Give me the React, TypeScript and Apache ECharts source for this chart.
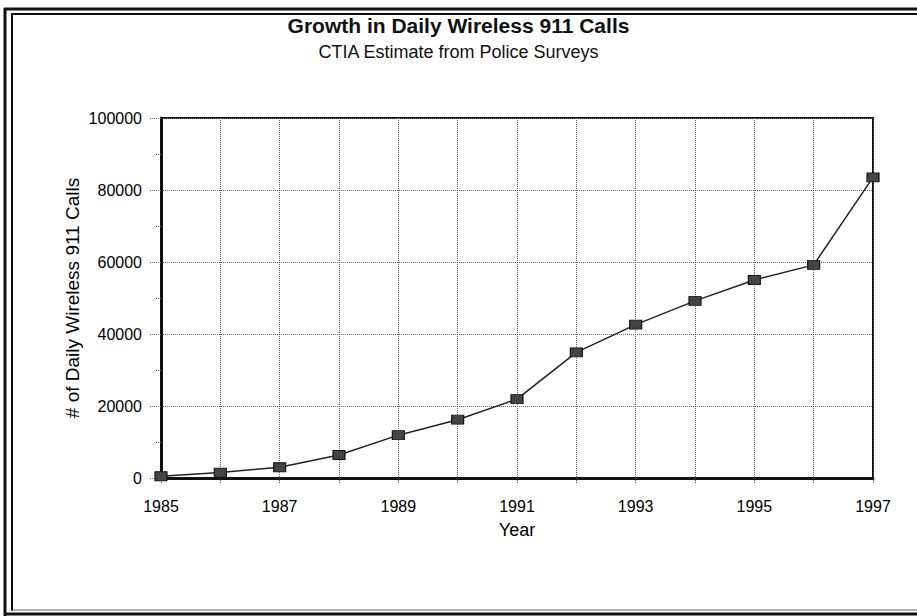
import React, { useEffect, useRef } from "react";
import * as echarts from "echarts";

const years = ["1985", "1986", "1987", "1988", "1989", "1990", "1991", "1992", "1993", "1994", "1995", "1996", "1997"];
const dailyCalls = [500, 1500, 3000, 6400, 11900, 16200, 21900, 34900, 42600, 49200, 55000, 59200, 83500];
const yTicks = { min: 0, max: 100000, interval: 20000 };

const titleText = "Growth in Daily Wireless 911 Calls";
const subtitleText = "CTIA Estimate from Police Surveys";
const yName = "# of Daily Wireless 911 Calls";
const xName = "Year";

export default function App() {
  const ref = useRef<HTMLDivElement>(null);
  useEffect(() => {
    if (!ref.current) return;
    const chart = echarts.init(ref.current, null, { renderer: "svg" });
    const font = "Liberation Sans, Arial, Helvetica, sans-serif";
    chart.setOption({
      animation: false,
      backgroundColor: "#fff",
      textStyle: { fontFamily: font },
      title: {
        text: titleText,
        subtext: subtitleText,
        left: "center",
        top: 10,
        itemGap: 7,
        textStyle: { fontFamily: font, fontSize: 21, fontWeight: "bold", color: "#111" },
        subtextStyle: { fontFamily: font, fontSize: 18, color: "#111" },
      },
      grid: {
        left: 161,
        right: 44,
        top: 118,
        bottom: 138,
        show: true,
        borderColor: "#111",
        borderWidth: 2,
        backgroundColor: "transparent",
      },
      xAxis: {
        type: "category",
        data: years,
        boundaryGap: false,
        name: xName,
        nameLocation: "middle",
        nameGap: 43,
        nameMoveOverlap: false,
        nameTextStyle: { fontFamily: font, fontSize: 18, color: "#000" },
        axisLine: { lineStyle: { color: "#111", width: 3 } },
        axisTick: { show: true, length: 5, interval: 0, lineStyle: { color: "#555", type: "dotted" } },
        axisLabel: { interval: 1, margin: 20, fontSize: 16, color: "#000", fontFamily: font },
        splitLine: { show: true, interval: 0, lineStyle: { color: "#666", type: "dotted", width: 1 } },
      },
      yAxis: {
        type: "value",
        min: yTicks.min,
        max: yTicks.max,
        interval: yTicks.interval,
        name: yName,
        nameLocation: "middle",
        nameGap: 79,
        nameMoveOverlap: false,
        nameTextStyle: { fontFamily: font, fontSize: 19, color: "#000" },
        axisLine: { show: true, lineStyle: { color: "#111", width: 3 } },
        axisTick: { show: true, length: 11, lineStyle: { color: "#666", type: "dotted" } },
        minorTick: { show: true, splitNumber: 2, length: 6, lineStyle: { color: "#555", type: "dotted" } },
        axisLabel: {
          margin: 19,
          fontSize: 16,
          color: "#000",
          fontFamily: font,
          formatter: (v: number) => String(v),
        },
        splitLine: { show: true, lineStyle: { color: "#666", type: "dotted", width: 1 } },
      },
      series: [
        {
          type: "line",
          data: dailyCalls,
          symbol: "rect",
          symbolSize: [12, 9],
          lineStyle: { color: "#222", width: 1.5 },
          itemStyle: { color: "#444", borderColor: "#111", borderWidth: 1 },
          z: 5,
        },
      ],
      graphic: [
        { type: "line", shape: { x1: 5, y1: 8, x2: 5, y2: 616 }, style: { stroke: "#111", lineWidth: 3 } },
        { type: "line", shape: { x1: 12, y1: 13, x2: 12, y2: 611 }, style: { stroke: "#111", lineWidth: 2 } },
        { type: "line", shape: { x1: 4, y1: 9, x2: 917, y2: 9 }, style: { stroke: "#111", lineWidth: 3 } },
        { type: "line", shape: { x1: 11, y1: 14, x2: 917, y2: 14 }, style: { stroke: "#111", lineWidth: 2 } },
        { type: "line", shape: { x1: 4, y1: 614, x2: 917, y2: 614 }, style: { stroke: "#111", lineWidth: 3 } },
        { type: "line", shape: { x1: 11, y1: 610, x2: 917, y2: 610 }, style: { stroke: "#666", lineWidth: 1 } },
      ],
    });
    return () => chart.dispose();
  }, []);
  return <div ref={ref} style={{ width: 917, height: 616, position: "absolute", left: 0, top: 0 }} />;
}
